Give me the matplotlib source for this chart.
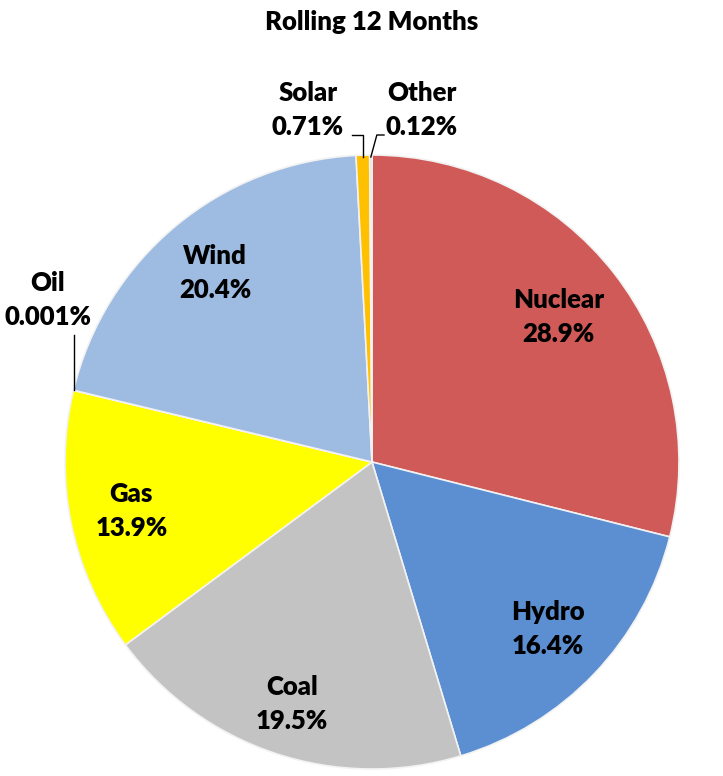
import numpy as np
import matplotlib
matplotlib.use("Agg")
import matplotlib.pyplot as plt

plt.rcParams['font.family'] = ['Lato', 'DejaVu Sans']

# data, clockwise from 12 o'clock
sources = ["Nuclear", "Hydro", "Coal", "Gas", "Oil", "Wind", "Solar", "Other"]
shares = [28.9, 16.4, 19.5, 13.9, 0.001, 20.4, 0.71, 0.12]
share_labels = ["28.9%", "16.4%", "19.5%", "13.9%", "0.001%", "20.4%", "0.71%", "0.12%"]
colors = ["#D05A57", "#5B8FD2", "#C3C3C3", "#FFFF00", "#7F7F7F",
          "#9EBBE2", "#FFC000", "#D9D9D9"]
title = "Rolling 12 Months"

W, H = 723, 776
fig = plt.figure(figsize=(W / 100, H / 100), dpi=100)
ax = fig.add_axes([0, 0, 1, 1])

cx, cy, R = 372, H - 462, 307
wedges, _ = ax.pie(shares, colors=colors, startangle=90, counterclock=False,
                   center=(cx, cy), radius=R, frame=True,
                   wedgeprops=dict(edgecolor="#F2F2F2", linewidth=1.2))
ax.set_xlim(0, W)
ax.set_ylim(0, H)
ax.set_aspect("equal")
ax.axis("off")

fs = 18.5
fw = "heavy"
ls = 1.5
# how far out each inside label sits (fraction of radius)
label_r = {"Nuclear": 0.77, "Hydro": 0.79, "Coal": 0.83, "Gas": 0.80, "Wind": 0.80}
for i, w in enumerate(wedges):
    name = sources[i]
    if name not in label_r:
        continue
    mid = np.deg2rad((w.theta1 + w.theta2) / 2)
    r = label_r[name] * R
    ax.text(cx + r * np.cos(mid), cy + r * np.sin(mid),
            name + "\n" + share_labels[i], ha="center", va="center",
            fontsize=fs, fontweight=fw, linespacing=ls)

# small slices with leader lines
def edge_pt(w, frac):
    a = np.deg2rad(w.theta1 + (w.theta2 - w.theta1) * frac)
    return cx + R * np.cos(a), cy + R * np.sin(a)

i_oil = sources.index("Oil")
x0, y0 = edge_pt(wedges[i_oil], 0.5)
ax.plot([x0, x0], [y0, H - 335], color="black", lw=1)
ax.text(48, H - 300, "Oil\n" + share_labels[i_oil], ha="center", va="center",
        fontsize=fs, fontweight=fw, linespacing=ls)

i_sol = sources.index("Solar")
x0, y0 = edge_pt(wedges[i_sol], 0.5)
ax.plot([x0, x0, 352], [y0 - 2, H - 135, H - 135], color="black", lw=1)
ax.text(308, H - 110, "Solar\n" + share_labels[i_sol], ha="center", va="center",
        fontsize=fs, fontweight=fw, linespacing=ls)

i_oth = sources.index("Other")
x0, y0 = edge_pt(wedges[i_oth], 0.5)
ax.plot([x0, x0 + 6, 384], [y0 - 2, H - 135, H - 135], color="black", lw=1)
ax.text(422, H - 110, "Other\n" + share_labels[i_oth], ha="center", va="center",
        fontsize=fs, fontweight=fw, linespacing=ls)

ax.text(cx, H - 22, title, ha="center", va="center", fontsize=18.5,
        fontweight=fw)

fig.savefig("out.png", dpi=100)
